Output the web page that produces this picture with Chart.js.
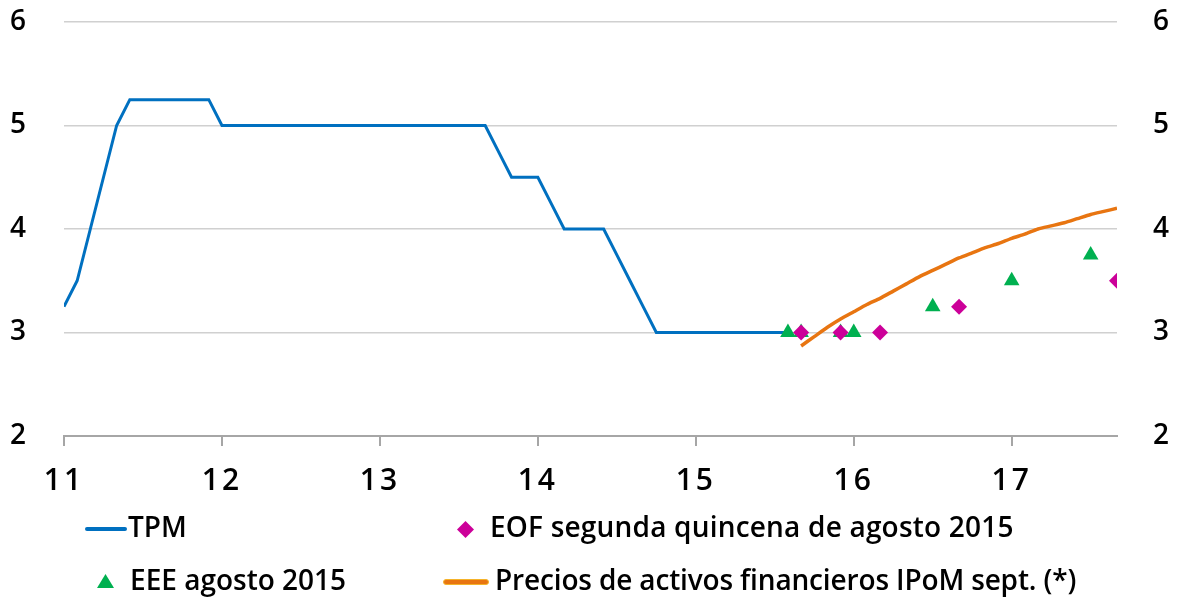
<!DOCTYPE html>
<html>
<head>
<meta charset="utf-8">
<script src="https://cdn.jsdelivr.net/npm/chart.js@4.4.0/dist/chart.umd.min.js"></script>
<style>
  html, body { margin: 0; padding: 0; background: #fff; }
  #wrap { position: relative; width: 1178px; height: 598px; font-family: "Open Sans", sans-serif; }
  canvas { position: absolute; left: 0; top: 0; }
  .lg { position: absolute; font-size: 28px; font-weight: 600; line-height: 28px; color: #000; white-space: nowrap; }
  .sw { position: absolute; }
</style>
</head>
<body>
<div id="wrap">
  <canvas id="tpmChart" width="1178" height="598"></canvas>

  <div class="sw" style="left:85px;top:527px;width:42px;height:4px;background:#0070C0;border-radius:2px"></div>
  <div class="lg" style="left:128px;top:512px">TPM</div>

  <svg class="sw" style="left:457px;top:521px" width="17" height="17"><polygon points="8.5,0 17,8.5 8.5,17 0,8.5" fill="#CC0099"/></svg>
  <div class="lg" style="left:490px;top:512px;letter-spacing:0.2px">EOF segunda quincena de agosto 2015</div>

  <svg class="sw" style="left:97px;top:574px" width="17" height="14"><polygon points="8.5,0 17,14 0,14" fill="#00B050"/></svg>
  <div class="lg" style="left:130px;top:565px">EEE agosto 2015</div>

  <div class="sw" style="left:443px;top:579px;width:44px;height:4px;background:#E87511;border:1px solid #F5B32A;border-radius:3px"></div>
  <div class="lg" style="left:495px;top:565px;letter-spacing:-0.15px">Precios de activos financieros IPoM sept. (*)</div>
</div>
<script>
// axis ticks (years as two digits)
const yearTicks = [11, 12, 13, 14, 15, 16, 17];
const yMin = 2;
const yMax = 6;

// TPM, monthly values from Jan 2011 to Aug 2015
const tpmStart = '2011-01';
const tpmValues = [
    3.25, 3.5, 4, 4.5, 5, 5.25, 5.25, 5.25, 5.25, 5.25, 5.25, 5.25,
    5, 5, 5, 5, 5, 5, 5, 5, 5, 5, 5, 5,
    5, 5, 5, 5, 5, 5, 5, 5, 5, 4.75, 4.5, 4.5,
    4.5, 4.25, 4, 4, 4, 4, 3.75, 3.5, 3.25, 3, 3, 3,
    3, 3, 3, 3, 3, 3, 3, 3
];

// EEE agosto 2015
const eeeMonths = ['2015-08', '2015-09', '2015-12', '2016-01', '2016-07', '2017-01', '2017-07'];
const eeeValues = [3, 3, 3, 3, 3.25, 3.5, 3.75];

// EOF segunda quincena de agosto 2015
const eofMonths = ['2015-09', '2015-12', '2016-03', '2016-09', '2017-09'];
const eofValues = [3, 3, 3, 3.25, 3.5];

// Precios de activos financieros, monthly from Sep 2015
const preciosStart = '2015-09';
const preciosValues = [
    2.87, 2.96, 3.05, 3.13, 3.20, 3.27, 3.33, 3.40, 3.47, 3.54, 3.60, 3.66,
    3.72, 3.77, 3.82, 3.86, 3.91, 3.95, 4.00, 4.03, 4.06, 4.10, 4.14, 4.17,
    4.20
];

function monthToX(s) {
    var parts = s.split('-').map(Number);
    return (parts[0] - 2000) + (parts[1] - 1) / 12;
}

function fromStart(start, values) {
    var x0 = monthToX(start);
    return values.map(function (v, i) { return {x: x0 + i / 12, y: v}; });
}

function fromMonths(months, values) {
    return months.map(function (m, i) { return {x: monthToX(m), y: values[i]}; });
}

const FONT = {family: '"Open Sans", sans-serif', size: 28, weight: '600'};
const X_FONT = {family: '"Open Sans", sans-serif', size: 30, weight: '600'};
const AXIS_GREY = '#a6a6a6';
const GRID_GREY = '#d0d0d0';

// wider spacing between digits, like the original tick labels
const letterSpacingPlugin = {
    id: 'letterSpacing',
    beforeDraw: function (chart) { chart.ctx.letterSpacing = '3px'; }
};

const ctx = document.getElementById('tpmChart').getContext('2d');
const tpmChart = new Chart(ctx, {
    type: 'line',
    data: {
        datasets: [
            {
                label: 'TPM',
                data: fromStart(tpmStart, tpmValues),
                borderColor: '#0070C0',
                borderWidth: 3,
                pointRadius: 0,
                tension: 0,
                order: 4
            },
            {
                label: 'EEE agosto 2015',
                data: fromMonths(eeeMonths, eeeValues),
                showLine: false,
                pointStyle: 'triangle',
                pointRadius: 9,
                backgroundColor: '#00B050',
                borderWidth: 0,
                order: 3
            },
            {
                label: 'EOF segunda quincena de agosto 2015',
                data: fromMonths(eofMonths, eofValues),
                showLine: false,
                pointStyle: 'rectRot',
                pointRadius: 8,
                backgroundColor: '#CC0099',
                borderWidth: 0,
                order: 2
            },
            {
                label: 'Precios de activos financieros IPoM sept. (*)',
                data: fromStart(preciosStart, preciosValues),
                borderColor: '#E87511',
                borderWidth: 3.5,
                pointRadius: 0,
                tension: 0.2,
                order: 1
            }
        ]
    },
    options: {
        responsive: false,
        animation: false,
        events: [],
        layout: {padding: {top: 22, bottom: 0, left: 10, right: 6}},
        plugins: {legend: {display: false}, tooltip: {enabled: false}},
        scales: {
            x: {
                type: 'linear',
                min: 11,
                max: monthToX('2017-09'),
                afterBuildTicks: function (scale) {
                    scale.ticks = yearTicks.map(function (v) { return {value: v}; });
                },
                afterFit: function (scale) { scale.height = 162; },
                grid: {drawOnChartArea: false, drawTicks: true, tickLength: 10, color: AXIS_GREY, lineWidth: 2},
                border: {display: true, color: AXIS_GREY, width: 2},
                ticks: {font: X_FONT, color: '#000', padding: 17, maxRotation: 0, autoSkip: false}
            },
            y: {
                position: 'left',
                min: yMin,
                max: yMax,
                afterFit: function (scale) { scale.width = 54; },
                grid: {color: GRID_GREY, lineWidth: 1.5, drawTicks: false},
                border: {display: false},
                ticks: {stepSize: 1, font: FONT, color: '#000', padding: 0, crossAlign: 'far'}
            },
            y2: {
                position: 'right',
                min: yMin,
                max: yMax,
                afterFit: function (scale) { scale.width = 55; },
                grid: {drawOnChartArea: false, drawTicks: false},
                border: {display: false},
                ticks: {stepSize: 1, font: FONT, color: '#000', padding: 0, crossAlign: 'far'}
            }
        }
    },
    plugins: [letterSpacingPlugin]
});
</script>
</body>
</html>
